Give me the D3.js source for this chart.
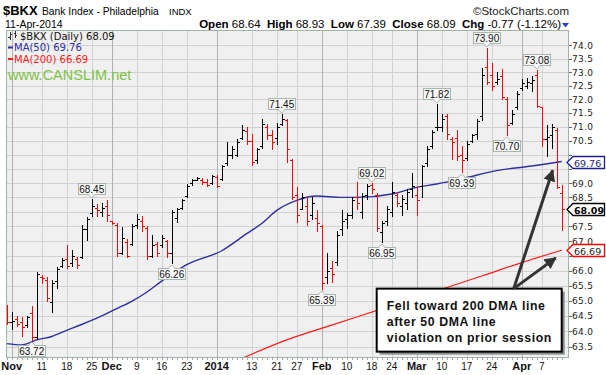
<!DOCTYPE html>
<html><head><meta charset="utf-8">
<script src="https://cdn.jsdelivr.net/npm/d3@7"></script>
<style>
html,body{margin:0;padding:0;background:#fff;}
svg{display:block;font-family:"Liberation Sans",Arial,sans-serif;}
</style></head><body>
<svg id="c" width="606" height="375"></svg>
<script>
// ---------------- data ----------------
const dates = ["2013-10-31",
 "2013-11-01","2013-11-04","2013-11-05","2013-11-06","2013-11-07","2013-11-08","2013-11-11","2013-11-12","2013-11-13","2013-11-14",
 "2013-11-15","2013-11-18","2013-11-19","2013-11-20","2013-11-21","2013-11-22","2013-11-25","2013-11-26","2013-11-27","2013-11-29",
 "2013-12-02","2013-12-03","2013-12-04","2013-12-05","2013-12-06","2013-12-09","2013-12-10","2013-12-11","2013-12-12","2013-12-13",
 "2013-12-16","2013-12-17","2013-12-18","2013-12-19","2013-12-20","2013-12-23","2013-12-24","2013-12-26","2013-12-27","2013-12-30","2013-12-31",
 "2014-01-02","2014-01-03","2014-01-06","2014-01-07","2014-01-08","2014-01-09","2014-01-10","2014-01-13","2014-01-14","2014-01-15",
 "2014-01-16","2014-01-17","2014-01-21","2014-01-22","2014-01-23","2014-01-24","2014-01-27","2014-01-28","2014-01-29","2014-01-30","2014-01-31",
 "2014-02-03","2014-02-04","2014-02-05","2014-02-06","2014-02-07","2014-02-10","2014-02-11","2014-02-12","2014-02-13","2014-02-14",
 "2014-02-18","2014-02-19","2014-02-20","2014-02-21","2014-02-24","2014-02-25","2014-02-26","2014-02-27","2014-02-28",
 "2014-03-03","2014-03-04","2014-03-05","2014-03-06","2014-03-07","2014-03-10","2014-03-11","2014-03-12","2014-03-13","2014-03-14",
 "2014-03-17","2014-03-18","2014-03-19","2014-03-20","2014-03-21","2014-03-24","2014-03-25","2014-03-26","2014-03-27","2014-03-28","2014-03-31",
 "2014-04-01","2014-04-02","2014-04-03","2014-04-04","2014-04-07","2014-04-08","2014-04-09","2014-04-10","2014-04-11"];

const open = [64.80,
 64.30,64.40,64.30,64.20,64.60,63.80,65.80,65.70,64.95,65.65,
 66.15,66.40,66.25,66.40,66.45,67.40,67.95,68.15,68.00,68.20,
 67.68,67.55,66.60,66.95,66.90,67.55,67.70,67.45,66.50,66.90,
 66.85,67.00,66.60,67.80,68.15,68.55,69.00,69.12,69.10,69.05,69.00,
 69.20,69.15,69.70,70.00,70.00,70.60,70.85,70.50,69.80,70.30,
 71.00,70.70,70.60,71.10,71.25,69.80,68.60,68.10,68.20,67.90,67.80,
 67.50,65.80,66.10,66.30,67.40,67.75,67.90,68.50,68.00,68.60,
 68.95,68.60,67.30,67.70,68.00,68.60,68.20,68.30,68.80,
 68.60,68.90,69.70,70.30,71.00,71.00,71.40,70.55,70.60,70.00,
 69.90,70.50,70.75,71.40,73.20,72.90,72.65,72.85,72.00,71.15,71.70,
 72.40,72.50,72.60,72.90,71.70,70.55,70.70,70.90,68.64];

const high = [64.87,
 64.63,64.50,64.45,64.50,64.82,65.95,65.85,65.80,65.70,66.12,
 66.42,66.87,66.68,66.45,67.55,67.82,68.45,68.27,68.30,68.40,
 67.70,67.63,67.48,67.08,67.58,67.92,67.85,67.50,67.20,66.95,
 67.20,67.05,68.05,68.15,68.45,68.97,69.15,69.20,69.17,69.15,69.30,
 69.30,69.65,70.45,70.30,70.55,71.05,70.98,70.75,70.25,71.30,
 71.10,70.90,71.15,71.45,71.30,69.85,68.87,68.65,68.50,68.50,68.05,
 67.55,66.60,66.33,67.33,68.05,67.97,68.50,69.05,68.65,68.97,
 69.02,68.65,67.70,68.20,69.05,68.70,68.60,68.80,69.35,
 68.87,69.65,70.30,70.90,71.82,71.45,71.47,70.62,70.90,70.30,
 70.50,70.75,71.30,73.15,73.90,73.35,73.00,73.10,72.10,71.60,72.30,
 72.75,72.80,72.85,73.08,71.72,71.05,71.10,70.95,68.93];

const low = [64.22,
 64.08,64.17,63.83,64.15,63.72,63.75,65.60,65.00,64.63,65.41,
 66.12,66.08,66.17,66.08,66.42,67.05,67.85,67.85,67.85,67.70,
 67.58,66.48,66.55,66.45,66.87,67.45,67.35,66.40,66.45,66.50,
 66.80,66.45,66.26,67.65,68.10,68.50,68.95,69.10,68.97,68.90,68.97,
 68.86,69.10,69.65,69.90,69.95,70.55,70.40,69.65,69.70,70.25,
 70.55,70.20,70.40,71.05,69.75,68.45,67.65,68.10,67.55,67.75,67.33,
 65.39,65.58,65.63,66.20,67.20,67.43,67.80,68.10,67.80,68.45,
 68.65,67.33,66.95,67.55,67.85,68.20,67.90,68.10,68.50,
 67.90,68.50,69.60,70.25,70.90,70.85,70.55,69.85,69.83,69.39,
 69.83,70.45,70.55,71.25,72.55,72.35,72.55,72.00,70.70,71.10,71.65,
 72.35,72.40,72.30,71.70,70.30,69.97,70.25,68.82,67.39];

const close = [64.30,
 64.35,64.25,64.15,64.45,63.80,65.90,65.75,65.10,65.60,66.05,
 66.35,66.15,66.50,66.20,67.40,67.75,68.20,68.05,68.15,67.90,
 67.60,66.60,67.10,66.50,67.50,67.75,67.50,66.50,66.85,66.60,
 67.10,66.60,68.00,68.10,68.40,68.90,69.10,69.18,69.05,68.95,69.25,
 68.90,69.60,70.00,70.20,70.45,70.90,70.50,69.75,70.20,71.10,
 70.70,70.45,71.00,71.30,70.20,68.50,67.90,68.50,67.70,68.30,67.60,
 65.60,66.00,65.90,67.20,67.70,67.90,68.40,68.30,68.55,68.90,
 68.80,67.45,67.60,68.10,68.70,68.30,68.45,68.70,68.90,
 68.40,69.60,70.20,70.80,71.00,71.30,70.75,70.45,69.95,69.80,
 70.40,70.70,71.20,72.90,72.65,72.50,72.75,72.10,71.05,71.45,72.20,
 72.60,72.65,72.70,71.75,70.55,70.65,71.00,68.86,68.09];

// moving averages at sample sessions
const ma50Dates = ["2013-10-31","2013-11-05","2013-11-08","2013-11-13","2013-11-18","2013-11-21","2013-11-27","2013-12-03","2013-12-06",
 "2013-12-11","2013-12-16","2013-12-23","2014-01-03","2014-01-10","2014-01-15","2014-01-21","2014-01-27","2014-01-31","2014-02-07",
 "2014-02-12","2014-02-24","2014-03-03","2014-03-07","2014-03-14","2014-03-25","2014-04-03","2014-04-11"];
const ma50Vals = [63.60,63.56,63.72,63.83,64.03,64.22,64.50,64.74,64.98,
 65.28,65.65,66.20,66.67,67.25,67.60,68.05,68.40,68.55,68.50,
 68.50,68.62,68.85,68.97,69.15,69.44,69.60,69.76];
const ma200Dates = ["2014-01-08","2014-01-23","2014-02-05","2014-02-20","2014-03-06","2014-03-20","2014-04-01","2014-04-11"];
const ma200Vals = [63.05,63.72,64.20,64.73,65.27,65.82,66.27,66.69];

const yTicks = [63.5,64.0,64.5,65.0,65.5,66.0,66.5,67.0,67.5,68.0,68.5,69.0,69.5,70.0,70.5,71.0,71.5,72.0,72.5,73.0,73.5,74.0];
const xTickDates = ["2013-11-01","2013-11-11","2013-11-18","2013-11-25","2013-12-02","2013-12-09","2013-12-16","2013-12-23",
 "2014-01-02","2014-01-13","2014-01-21","2014-01-27","2014-02-03","2014-02-10","2014-02-18","2014-02-24",
 "2014-03-03","2014-03-10","2014-03-17","2014-03-24","2014-04-01","2014-04-07"];
const xTickLabels = ["Nov","11","18","25","Dec","9","16","23","2014","13","21","27","Feb","10","18","24","Mar","10","17","24","Apr","7"];
const xTickMonth = [1,0,0,0,1,0,0,0,1,0,0,0,1,0,0,0,1,0,0,0,1,0];

const peakDates = ["2013-11-07","2013-11-25","2013-12-18","2014-01-22","2014-02-03","2014-02-18","2014-02-20","2014-03-07","2014-03-14","2014-03-21","2014-03-27","2014-04-04"];
const peakVals  = [63.72,68.45,66.26,71.45,65.39,69.02,66.95,71.82,69.39,73.90,70.70,73.08];
const peakKind  = ["low","high","low","high","low","high","low","high","low","high","low","high"];

const noteLines = ["Fell toward 200 DMA line","after 50 DMA line","violation on prior session"];

// ---------------- drawing ----------------
const svg = d3.select("#c");
const P = {l:6, r:569, t:30, b:358};
const x = d3.scalePoint().domain(dates).range([6.7, 561.7]);
const y = d3.scaleLog().domain([63.5, 74]).range([346.7, 45.3]);
const n = dates.length, last = n - 1;
const px = v => Math.round(v) + 0.5;

// plot background
svg.append("rect").attr("x",P.l).attr("y",P.t).attr("width",P.r-P.l).attr("height",P.b-P.t).attr("fill","#f0f0f0");

svg.append("defs").append("clipPath").attr("id","clip")
  .append("rect").attr("x",P.l).attr("y",P.t).attr("width",P.r-P.l).attr("height",P.b-P.t);

const grid = svg.append("g").attr("shape-rendering","crispEdges");
grid.selectAll("line.h").data(yTicks).join("line")
  .attr("x1",P.l).attr("x2",P.r).attr("y1",d=>px(y(d))).attr("y2",d=>px(y(d)))
  .attr("stroke","#d2d2d2");
grid.selectAll("line.v").data(xTickDates).join("line")
  .attr("x1",d=>px(x(d))).attr("x2",d=>px(x(d))).attr("y1",P.t).attr("y2",P.b)
  .attr("stroke",(d,i)=>xTickMonth[i]?"#b2b2b2":"#d2d2d2");

const plot = svg.append("g").attr("clip-path","url(#clip)");

// MA lines
const ma200 = ma200Dates.map((d,i)=>[x(d), y(ma200Vals[i])]);
const ma50 = ma50Dates.map((d,i)=>[x(d), y(ma50Vals[i])]);
plot.append("path").attr("d",d3.line().curve(d3.curveMonotoneX)(ma200))
  .attr("fill","none").attr("stroke","#ff1a1a").attr("stroke-width",1.2);
plot.append("path").attr("d",d3.line().curve(d3.curveMonotoneX)(ma50))
  .attr("fill","none").attr("stroke","#2f2f9f").attr("stroke-width",1.4);

// OHLC bars
const bars = plot.append("g").attr("shape-rendering","crispEdges");
dates.forEach((d,i)=>{
  const up = i===0 ? close[i] >= open[i] : close[i] >= close[i-1];
  const col = up ? "#000" : "#ff0000";
  const cx = px(x(d));
  const g = bars.append("g").attr("stroke",col);
  g.append("line").attr("x1",cx).attr("x2",cx).attr("y1",Math.round(y(high[i]))).attr("y2",Math.round(y(low[i]))+1);
  g.append("line").attr("x1",cx-2.5).attr("x2",cx).attr("y1",px(y(open[i]))).attr("y2",px(y(open[i])));
  g.append("line").attr("x1",cx).attr("x2",cx+2.5).attr("y1",px(y(close[i]))).attr("y2",px(y(close[i])));
});

// frame
svg.append("rect").attr("x",P.l+0.5).attr("y",P.t+0.5).attr("width",P.r-P.l-1).attr("height",P.b-P.t-1)
  .attr("fill","none").attr("stroke","#9fb3a6");
// day ticks on the bottom edge
svg.append("g").attr("shape-rendering","crispEdges").selectAll("line").data(dates).join("line")
  .attr("x1",d=>px(x(d))).attr("x2",d=>px(x(d))).attr("y1",P.b-1).attr("y2",P.b+2).attr("stroke","#a8a8a8");

// value tags (last values) on the right axis
const tagVals = [ma50Vals[ma50Vals.length-1], ma200Vals[ma200Vals.length-1], close[last]];

// y axis labels and ticks (labels hidden behind a value tag are not drawn, as in the reference)
const ya = svg.append("g");
ya.selectAll("line").data(yTicks).join("line").attr("shape-rendering","crispEdges")
  .attr("x1",P.r).attr("x2",P.r+3).attr("y1",d=>px(y(d))).attr("y2",d=>px(y(d))).attr("stroke","#666");
const shownY = yTicks.filter(t => tagVals.every(v => Math.abs(y(t) - y(v)) > 8));
ya.selectAll("text").data(shownY).join("text")
  .attr("x",P.r+3).attr("y",d=>y(d)+3.5).text(d=>d.toFixed(1))
  .attr("font-family","DejaVu Sans").attr("font-size",9).attr("letter-spacing",0.3).attr("fill","#222");

// x axis labels
svg.append("g").selectAll("text").data(xTickDates).join("text")
  .attr("x",d=>x(d)).attr("y",370).attr("text-anchor","middle")
  .attr("font-size",(d,i)=>xTickMonth[i]?11:10).attr("font-weight",(d,i)=>xTickMonth[i]?"bold":"normal")
  .attr("fill","#111").text((d,i)=>xTickLabels[i]);

// peak / trough labels
const pk = svg.append("g");
peakDates.forEach((d,i)=>{
  const cx = x(d), v = peakVals[i], isHigh = peakKind[i]==="high";
  const w = 27, h = 11;
  const tip = isHigh ? y(v) - 1 : y(v) + 1;
  const by = isHigh ? tip - 4 - h : tip + 4;
  const g = pk.append("g");
  g.append("rect").attr("x",Math.round(cx - w/2)+0.5).attr("y",Math.round(by)+0.5).attr("width",w).attr("height",h)
    .attr("fill","#f7f7f7").attr("stroke","#a9b6ad");
  const ty = isHigh ? Math.round(by)+h+0.5 : Math.round(by)+0.5;
  g.append("path").attr("d",`M${cx-3.5},${ty} L${cx},${isHigh?ty+3.5:ty-3.5} L${cx+3.5},${ty}`)
    .attr("fill","#f7f7f7").attr("stroke","#a9b6ad");
  g.append("line").attr("x1",cx-2.5).attr("x2",cx+2.5).attr("y1",ty).attr("y2",ty).attr("stroke","#f7f7f7");
  g.append("text").attr("x",cx).attr("y",Math.round(by)+h-1.5).attr("text-anchor","middle")
    .attr("font-size",10).attr("fill","#111").text(v.toFixed(2));
});

// legend inside plot
const lg = svg.append("g").attr("font-family","DejaVu Sans").attr("font-size",10);
const ic = lg.append("g").attr("stroke","#333").attr("shape-rendering","crispEdges");
ic.append("line").attr("x1",10.5).attr("x2",10.5).attr("y1",32).attr("y2",40);
ic.append("line").attr("x1",8).attr("x2",10.5).attr("y1",37.5).attr("y2",37.5);
ic.append("line").attr("x1",10.5).attr("x2",12).attr("y1",34.5).attr("y2",34.5);
ic.append("line").attr("x1",15.5).attr("x2",15.5).attr("y1",31).attr("y2",38);
ic.append("line").attr("x1",14).attr("x2",15.5).attr("y1",33.5).attr("y2",33.5);
ic.append("line").attr("x1",15.5).attr("x2",17).attr("y1",35.5).attr("y2",35.5);
lg.append("text").attr("x",20).attr("y",39.5).attr("fill","#111").text(`$BKX (Daily) ${close[last].toFixed(2)}`);
lg.append("rect").attr("x",8).attr("y",46.5).attr("width",5).attr("height",2).attr("fill","#2f2f9f");
lg.append("text").attr("x",14).attr("y",51).attr("fill","#2f2f9f").text(`MA(50) ${ma50Vals[ma50Vals.length-1].toFixed(2)}`);
lg.append("rect").attr("x",8).attr("y",58).attr("width",5).attr("height",2).attr("fill","#ff1a1a");
lg.append("text").attr("x",14).attr("y",62.5).attr("fill","#ff1a1a").text(`MA(200) ${ma200Vals[ma200Vals.length-1].toFixed(2)}`);
svg.append("text").attr("x",8).attr("y",79.5).attr("font-size",14.5).attr("fill","#7dc242").text("www.CANSLIM.net");

function tag(v, stroke, txtCol, bold){
  const yc = Math.round(y(v)) + 0.5;
  svg.append("path").attr("d",`M${P.r-2},${yc} L${P.r+4},${yc-6} L604.5,${yc-6} L604.5,${yc+6} L${P.r+4},${yc+6} Z`)
    .attr("fill","#fff").attr("stroke",stroke).attr("stroke-width",1.3);
  svg.append("text").attr("x",P.r+5).attr("y",yc+4).attr("font-family","DejaVu Sans").attr("font-size",9.5)
    .attr("font-weight",bold?"bold":"normal").attr("fill",txtCol).text(v.toFixed(2));
}
tag(tagVals[0], "#1f1f8f", "#1f1f6f", false);
tag(tagVals[1], "#ff0000", "#222", false);
tag(tagVals[2], "#000", "#000", true);

// callout with arrows
const bx0 = x("2014-02-19"), bx1 = x("2014-04-11"), by0 = y(65.4), bh = 63;
const note = svg.append("g");
note.append("rect").attr("x",bx0+3).attr("y",by0+3).attr("width",bx1-bx0).attr("height",bh).attr("fill","#8a8a8a");
note.append("rect").attr("x",bx0).attr("y",by0).attr("width",bx1-bx0).attr("height",bh)
  .attr("fill","#fff").attr("stroke","#000").attr("stroke-width",2);
note.selectAll("text").data(noteLines).join("text")
  .attr("x",bx0+10).attr("y",(d,i)=>by0+21+i*16).attr("font-size",12.3).attr("font-weight","bold")
  .attr("letter-spacing",0.6).attr("fill","#111").text(d=>d);
const defs = svg.select("defs");
defs.append("marker").attr("id","ah").attr("viewBox","0 0 10 10").attr("refX",9).attr("refY",5)
  .attr("markerWidth",4).attr("markerHeight",4).attr("orient","auto")
  .append("path").attr("d","M0,0 L10,5 L0,10 Z").attr("fill","#333");
const ax0 = x("2014-03-28") + 2, ay0 = by0;
[[x("2014-04-10") - 4, y(69.45)], [x("2014-04-10") - 1, y(66.43)]].forEach(t=>{
  note.append("line").attr("x1",ax0).attr("y1",ay0).attr("x2",t[0]).attr("y2",t[1])
    .attr("stroke","#333").attr("stroke-width",3).attr("marker-end","url(#ah)");
});

// header
const hd = svg.append("g").attr("fill","#000");
hd.append("text").attr("x",3).attr("y",14.5).attr("font-size",13).attr("font-weight","bold").text("$BKX");
hd.append("text").attr("x",42).attr("y",14.5).attr("font-size",10.3).text("Bank Index - Philadelphia");
hd.append("text").attr("x",169).attr("y",14.5).attr("font-size",9.5).text("INDX");
hd.append("text").attr("x",569).attr("y",14.5).attr("font-size",11.5).attr("text-anchor","end").attr("fill","#222").text("\u00A9StockCharts.com");
hd.append("text").attr("x",5).attr("y",28).attr("font-size",10.5).text("11-Apr-2014");
const chg = close[last] - close[last-1];
const parts = [["Open ",1],[open[last].toFixed(2)+"  ",0],["High ",1],[high[last].toFixed(2)+"  ",0],["Low ",1],[low[last].toFixed(2)+"  ",0],
  ["Close ",1],[close[last].toFixed(2)+"  ",0],["Chg ",1],[`${chg.toFixed(2)} (${(chg/close[last-1]*100).toFixed(2)}%)`,0]];
const ht = hd.append("text").attr("x",561).attr("y",27.5).attr("font-size",11.5).attr("text-anchor","end").attr("xml:space","preserve");
parts.forEach(p=>ht.append("tspan").attr("font-weight",p[1]?"bold":"normal").text(p[0]));
hd.append("path").attr("d","M562,23 L569,23 L565.5,27.5 Z").attr("fill","#2b3fd6");
</script>
</body></html>
